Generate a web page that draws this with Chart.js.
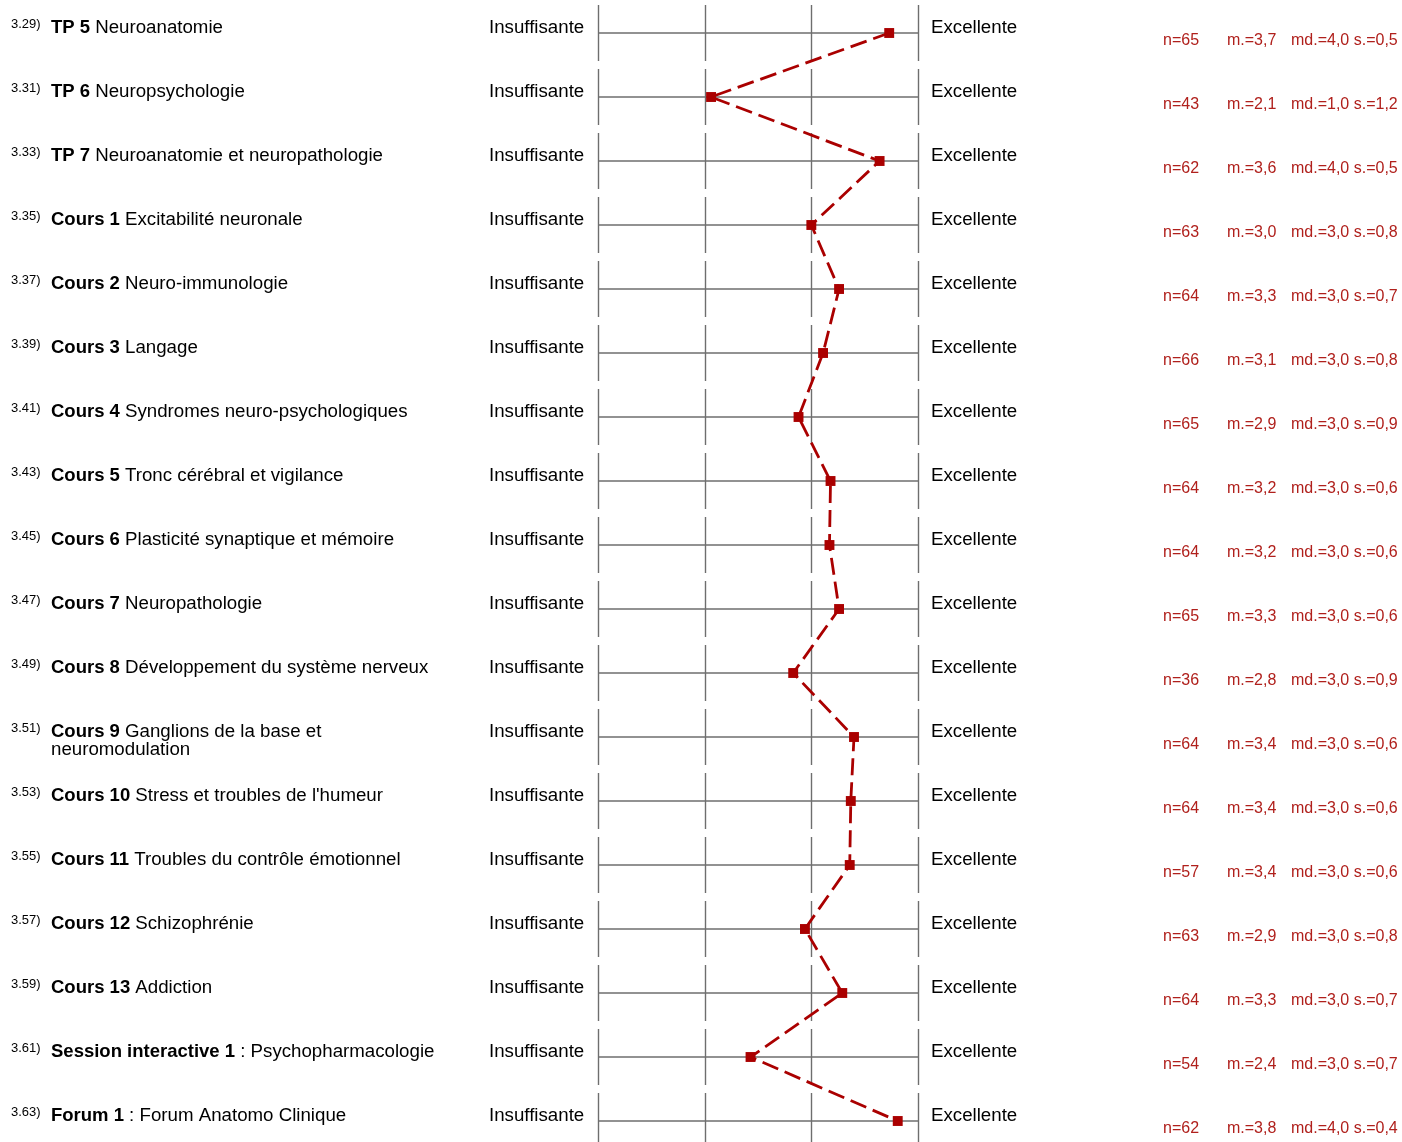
<!DOCTYPE html>
<html lang="fr">
<head>
  <meta charset="UTF-8" />
  <title>Profil des évaluations</title>
  <script src="https://cdn.jsdelivr.net/npm/chart.js"></script>
  <style>
    html, body { margin: 0; padding: 0; background: #fff; }
    #wrap { width: 1402px; height: 1142px; }
  </style>
</head>
<body>
  <div id="wrap"><canvas id="profile" width="1402" height="1142"></canvas></div>

  <script>
    // question numbers, bold part and rest of each label
    const numbers = ['3.29)', '3.31)', '3.33)', '3.35)', '3.37)', '3.39)', '3.41)', '3.43)', '3.45)',
      '3.47)', '3.49)', '3.51)', '3.53)', '3.55)', '3.57)', '3.59)', '3.61)', '3.63)'];
    const boldParts = ['TP 5', 'TP 6', 'TP 7', 'Cours 1', 'Cours 2', 'Cours 3', 'Cours 4', 'Cours 5', 'Cours 6',
      'Cours 7', 'Cours 8', 'Cours 9', 'Cours 10', 'Cours 11', 'Cours 12', 'Cours 13', 'Session interactive 1', 'Forum 1'];
    const restParts = ['Neuroanatomie', 'Neuropsychologie', 'Neuroanatomie et neuropathologie',
      'Excitabilité neuronale', 'Neuro-immunologie', 'Langage', 'Syndromes neuro-psychologiques',
      'Tronc cérébral et vigilance', 'Plasticité synaptique et mémoire', 'Neuropathologie',
      'Développement du système nerveux', 'Ganglions de la base et|neuromodulation',
      "Stress et troubles de l'humeur", 'Troubles du contrôle émotionnel', 'Schizophrénie', 'Addiction',
      ': Psychopharmacologie', ': Forum Anatomo Clinique'];

    // stats (means)
    const counts = [65, 43, 62, 63, 64, 66, 65, 64, 64, 65, 36, 64, 64, 57, 63, 64, 54, 62];
    const means = [3.73, 2.06, 3.64, 3.0, 3.26, 3.11, 2.88, 3.18, 3.17, 3.26, 2.83, 3.40, 3.37, 3.36, 2.94, 3.29, 2.43, 3.81];
    const medians = [4.0, 1.0, 4.0, 3.0, 3.0, 3.0, 3.0, 3.0, 3.0, 3.0, 3.0, 3.0, 3.0, 3.0, 3.0, 3.0, 3.0, 4.0];
    const deviations = [0.5, 1.2, 0.5, 0.8, 0.7, 0.8, 0.9, 0.6, 0.6, 0.6, 0.9, 0.6, 0.6, 0.6, 0.8, 0.7, 0.7, 0.4];

    const scaleTicks = [1, 2, 3, 4];
    const leftPole = 'Insuffisante';
    const rightPole = 'Excellente';

    const RED = '#aa0000';
    const STAT_RED = '#b0201c';
    const FONT = '"Liberation Sans", Arial, sans-serif';
    const fmt = v => v.toFixed(1).replace('.', ',');

    // grid: one horizontal line per row plus short vertical ticks
    const rowGrid = {
      id: 'rowGrid',
      beforeDatasetsDraw(chart) {
        const { ctx, scales: { x, y } } = chart;
        ctx.save();
        ctx.strokeStyle = '#6e6e6e';
        numbers.forEach((_, i) => {
          const yy = y.getPixelForValue(i);
          ctx.lineWidth = 1.6;
          ctx.beginPath();
          ctx.moveTo(x.getPixelForValue(1), yy);
          ctx.lineTo(x.getPixelForValue(4), yy);
          ctx.stroke();
          ctx.lineWidth = 1.4;
          scaleTicks.forEach(t => {
            const xx = Math.round(x.getPixelForValue(t)) + 0.5;
            ctx.beginPath();
            ctx.moveTo(xx, yy - 28);
            ctx.lineTo(xx, yy + 28);
            ctx.stroke();
          });
        });
        ctx.restore();
      }
    };

    // labels, poles and stats
    const rowText = {
      id: 'rowText',
      afterDraw(chart) {
        const { ctx, scales: { y } } = chart;
        ctx.save();
        ctx.textBaseline = 'alphabetic';
        numbers.forEach((num, i) => {
          const base = y.getPixelForValue(i);
          ctx.fillStyle = '#000';
          ctx.font = '13px ' + FONT;
          ctx.fillText(num, 11, base - 5);

          ctx.font = 'bold 18.5px ' + FONT;
          ctx.fillText(boldParts[i], 51, base);
          const w = ctx.measureText(boldParts[i] + ' ').width;
          ctx.font = '18.7px ' + FONT;
          const lines = restParts[i].split('|');
          ctx.fillText(lines[0], 51 + w, base);
          if (lines[1]) ctx.fillText(lines[1], 51, base + 18);

          ctx.fillText(leftPole, 489, base);
          ctx.fillText(rightPole, 931, base);

          ctx.fillStyle = STAT_RED;
          ctx.font = '16px ' + FONT;
          ctx.fillText('n=' + counts[i], 1163, base + 12);
          ctx.fillText('m.=' + fmt(means[i]), 1227, base + 12);
          ctx.fillText('md.=' + fmt(medians[i]) + ' s.=' + fmt(deviations[i]), 1291, base + 12);
        });
        ctx.restore();
      }
    };

    new Chart(document.getElementById('profile'), {
      type: 'scatter',
      data: {
        datasets: [{
          data: means.map((m, i) => ({ x: m, y: i })),
          showLine: true,
          borderColor: RED,
          borderWidth: 2.8,
          borderDash: [17, 7],
          pointStyle: 'rect',
          pointRadius: 7,
          pointBackgroundColor: RED,
          pointBorderWidth: 0,
          clip: false
        }]
      },
      options: {
        responsive: false,
        animation: false,
        layout: { autoPadding: false, padding: { left: 598, right: 484, top: 0, bottom: 0 } },
        plugins: { legend: { display: false }, tooltip: { enabled: false } },
        scales: {
          x: { type: 'linear', min: 1, max: 4, display: false },
          y: { type: 'linear', reverse: true, min: -33 / 64, max: 17 + 21 / 64, display: false }
        }
      },
      plugins: [rowGrid, rowText]
    });
  </script>
</body>
</html>
